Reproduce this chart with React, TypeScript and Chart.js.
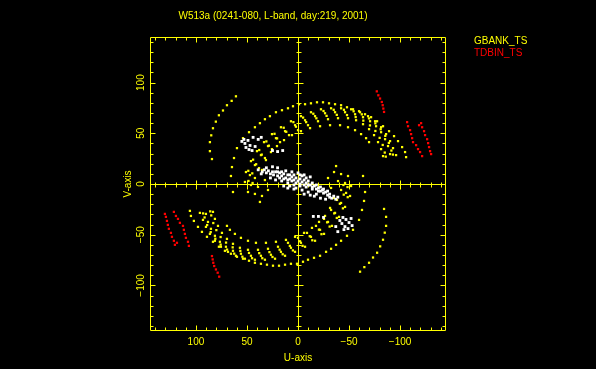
import React, { useEffect, useRef } from 'react';
import { Chart, registerables } from 'chart.js';

Chart.register(...registerables);

const TITLE = 'W513a (0241-080, L-band, day:219, 2001)';
const X_LABEL = 'U-axis';
const Y_LABEL = 'V-axis';
const AXIS_MIN = -145;
const AXIS_MAX = 145;
const TICK_VALUES = [-100, -50, 0, 50, 100];
const SERIES_NAMES = ['GBANK_TS', 'TDBIN_TS'];
const OTHER_NAME = 'OTHER';

const YELLOW = '#ffff00';
const RED = '#ff0000';
const WHITE = '#ffffff';
const FONT = 'Liberation Sans, Arial, sans-serif';

type P = [number, number];

// ---- GBANK_TS (yellow) tracks, upper half ----
const GB_T1_UP: P[] = [[60.8,86.5],[65,82],[69.6,77.7],[73.5,72.5],[77.5,67.8],[80.5,61.5],[83.3,55],[85,48],[86.3,41.3],[86.3,32.4],[84.3,24.6]];
const GB_T2_UP: P[] = [[63.7,-7.9],[65.7,7.9],[64.7,16.7],[62.7,25.6],[59.8,35.4],[53.9,45.2],[48,51.1],[42.2,56],[37.3,60],[32.4,63.9],[27.5,66.9],[21.6,70.8],[15.7,72.8],[9.8,74.7],[4.9,76.7],[-1,78.7],[-6.9,78.7],[-12.7,79.6],[-18.6,80.6],[-24.5,80.6],[-30.4,79.6],[-36.3,78.7],[-42.2,77.7],[-48,75.7],[-53.9,73.7],[-59.8,71.8],[-65.7,68.8],[-71.6,65.9],[-77.5,61.9],[-83.3,57],[-89.2,52.1],[-94.1,47.2],[-98,42.3],[-102,36.4],[-104.9,31.5],[-105.9,26.5]];
const GB_B0_UP: P[] = [[29.4,-5.9],[32.4,3.9],[35.3,13.8],[31.4,23.6],[26.5,31.5],[20.6,37.4],[13.7,43.3],[5.9,48.2],[-2.9,52.1],[-11.8,55.1],[-21.6,57],[-31.4,58],[-41.2,58],[-49,56],[-55.9,53.1],[-61.8,49.2],[-66.7,45.2],[-69.6,41.3]];
const GB_B1_UP: P[] = [[35.3,-11.8],[39.2,-2.9],[42.2,5.9],[38.2,15.7],[32.4,25.6],[25.5,34.4],[17.6,41.3],[8.8,48.2],[0,53.1],[-9.8,58],[-19.6,61.9],[-29.4,63.9],[-39.2,64.9],[-49,64.9],[-56.9,62.9],[-63.7,59],[-69.6,54.1],[-74.5,48.2],[-78.4,41.3],[-81.4,34.4],[-83.3,27.5]];
const GB_B12_UP: P[] = [[44.5,1],[44.8,10.5],[41,19.5],[35.5,29],[28.5,37.8],[20.5,45],[11.5,51.5],[2,56.5],[-8,61],[-18,64.8],[-28,67.2],[-38,68.2],[-48,68],[-56.5,66],[-64,62.5],[-70.5,57.8],[-75.8,52.3],[-80,45.5],[-83,38.5],[-85,31],[-86,27]];
const GB_B2_UP: P[] = [[37.3,-17.7],[42.2,-9.8],[46.1,-1],[47.1,8.8],[42.2,18.7],[36.3,28.5],[29.4,37.4],[21.6,45.2],[12.7,52.1],[2.9,58],[-6.9,62.9],[-16.7,66.9],[-26.5,69.8],[-36.3,70.8],[-46.1,70.8],[-55.9,68.8],[-63.7,65.9],[-70.6,61.9],[-76.5,57],[-81.4,51.1],[-85.3,44.2],[-88.2,37.4],[-90.2,29.5]];
const GB_B23_UP: P[] = [[48.5,3],[48.7,13],[44,24],[38,33.5],[31,42],[23,49.5],[14,55.5],[4.5,61],[-5,65.5],[-15,69.3],[-25,72],[-35,73.2],[-45,73.2],[-54.5,71.7],[-62.5,68.7],[-69.5,64.7],[-75.8,59.8],[-81,54],[-85.5,47.5],[-89,40.5],[-91.5,33],[-93,29]];
const GB_B3_UP: P[] = [[49,-7.9],[52,2],[51,11.8],[46.1,22.6],[40.2,32.4],[33.3,41.3],[25.5,49.2],[16.7,56],[6.9,61.9],[-2.9,66.9],[-12.7,70.8],[-22.5,73.7],[-32.4,74.7],[-42.2,74.7],[-52,73.7],[-60.8,70.8],[-68.6,66.9],[-75.5,61.9],[-81.4,56],[-86.3,49.2],[-90.2,42.3],[-93.1,35.4],[-96.1,28.5]];

// ---- GBANK_TS (yellow) tracks, lower half ----
const GB_T1_LO: P[] = [[-60.8,-86.5],[-65,-82],[-69.6,-77.7],[-73.5,-72.5],[-77.5,-67.8],[-80.5,-61.5],[-83.3,-55],[-85,-48],[-86.3,-41.3],[-86.3,-32.4],[-84.3,-24.6]];
const GB_T2_LO: P[] = [[-63.7,7.9],[-65.7,-7.9],[-64.7,-16.7],[-62.7,-25.6],[-59.8,-35.4],[-53.9,-45.2],[-48,-51.1],[-42.2,-56],[-37.3,-60],[-32.4,-63.9],[-27.5,-66.9],[-21.6,-70.8],[-15.7,-72.8],[-9.8,-74.7],[-4.9,-76.7],[1,-78.7],[6.9,-78.7],[12.7,-79.6],[18.6,-80.6],[24.5,-80.6],[30.4,-79.6],[36.3,-78.7],[42.2,-77.7],[48,-75.7],[53.9,-73.7],[59.8,-71.8],[65.7,-68.8],[71.6,-65.9],[77.5,-61.9],[83.3,-57],[89.2,-52.1],[94.1,-47.2],[98,-42.3],[102,-36.4],[104.9,-31.5],[105.9,-26.5]];
const GB_B0_LO: P[] = [[-29.4,5.9],[-32.4,-3.9],[-35.3,-13.8],[-31.4,-23.6],[-26.5,-31.5],[-20.6,-37.4],[-13.7,-43.3],[-5.9,-48.2],[2.9,-52.1],[11.8,-55.1],[21.6,-57],[31.4,-58],[41.2,-58],[49,-56],[55.9,-53.1],[61.8,-49.2],[66.7,-45.2],[69.6,-41.3]];
const GB_B1_LO: P[] = [[-35.3,11.8],[-39.2,2.9],[-42.2,-5.9],[-38.2,-15.7],[-32.4,-25.6],[-25.5,-34.4],[-17.6,-41.3],[-8.8,-48.2],[0,-53.1],[9.8,-58],[19.6,-61.9],[29.4,-63.9],[39.2,-64.9],[49,-64.9],[56.9,-62.9],[63.7,-59],[69.6,-54.1],[74.5,-48.2],[78.4,-41.3],[81.4,-34.4],[83.3,-27.5]];
const GB_B12_LO: P[] = [[-44.5,-1],[-44.8,-10.5],[-41,-19.5],[-35.5,-29],[-28.5,-37.8],[-20.5,-45],[-11.5,-51.5],[-2,-56.5],[8,-61],[18,-64.8],[28,-67.2],[38,-68.2],[48,-68],[56.5,-66],[64,-62.5],[70.5,-57.8],[75.8,-52.3],[80,-45.5],[83,-38.5],[85,-31],[86,-27]];
const GB_B2_LO: P[] = [[-37.3,17.7],[-42.2,9.8],[-46.1,1],[-47.1,-8.8],[-42.2,-18.7],[-36.3,-28.5],[-29.4,-37.4],[-21.6,-45.2],[-12.7,-52.1],[-2.9,-58],[6.9,-62.9],[16.7,-66.9],[26.5,-69.8],[36.3,-70.8],[46.1,-70.8],[55.9,-68.8],[63.7,-65.9],[70.6,-61.9],[76.5,-57],[81.4,-51.1],[85.3,-44.2],[88.2,-37.4],[90.2,-29.5]];
const GB_B23_LO: P[] = [[-48.5,-3],[-48.7,-13],[-44,-24],[-38,-33.5],[-31,-42],[-23,-49.5],[-14,-55.5],[-4.5,-61],[5,-65.5],[15,-69.3],[25,-72],[35,-73.2],[45,-73.2],[54.5,-71.7],[62.5,-68.7],[69.5,-64.7],[75.8,-59.8],[81,-54],[85.5,-47.5],[89,-40.5],[91.5,-33],[93,-29]];
const GB_B3_LO: P[] = [[-49,7.9],[-52,-2],[-51,-11.8],[-46.1,-22.6],[-40.2,-32.4],[-33.3,-41.3],[-25.5,-49.2],[-16.7,-56],[-6.9,-61.9],[2.9,-66.9],[12.7,-70.8],[22.5,-73.7],[32.4,-74.7],[42.2,-74.7],[52,-73.7],[60.8,-70.8],[68.6,-66.9],[75.5,-61.9],[81.4,-56],[86.3,-49.2],[90.2,-42.3],[93.1,-35.4],[96.1,-28.5]];

// ---- TDBIN_TS (red) tracks ----
const TD_R1_UP: P[] = [[-77.2,91.4],[-78.7,87.5],[-80.4,84.3],[-82.1,80.9],[-83,77.7],[-83.6,74.4],[-84.3,71.1]];
const TD_R2_UP: P[] = [[-106.9,61],[-107.8,57],[-109.8,53.1],[-110.8,49.2],[-111.8,45.2],[-112.7,41.3],[-115.7,38.3],[-117.6,34.4],[-119.6,31.5],[-121.6,27.5]];
const TD_R3_UP: P[] = [[-118.6,58],[-120.6,60],[-121.6,56],[-123.5,52.1],[-124.5,48.2],[-126.5,44.2],[-127.5,40.3],[-128.4,36.4],[-129.4,32.4],[-130.4,29.5]];
const TD_R1_LO: P[] = [[77.2,-91.4],[78.7,-87.5],[80.4,-84.3],[82.1,-80.9],[83,-77.7],[83.6,-74.4],[84.3,-71.1]];
const TD_R2_LO: P[] = [[106.9,-61],[107.8,-57],[109.8,-53.1],[110.8,-49.2],[111.8,-45.2],[112.7,-41.3],[115.7,-38.3],[117.6,-34.4],[119.6,-31.5],[121.6,-27.5]];
const TD_R3_LO: P[] = [[118.6,-58],[120.6,-60],[121.6,-56],[123.5,-52.1],[124.5,-48.2],[126.5,-44.2],[127.5,-40.3],[128.4,-36.4],[129.4,-32.4],[130.4,-29.5]];

// ---- other (white) short-baseline points ----
const OTHER_CLUSTERS: P[] = [[55,42],[52,40],[49,43],[47,38],[51,36],[45,33],[42,37],[39,44],[36,46],[44,46],[48,34],[53,44],
  [-41,-36],[-44,-33],[-47,-35],[-50,-38],[-53,-41],[-46,-42],[-43,-39],[-49,-44],[-52,-34],[-45,-45],[-37,-42],[-39,-47]];
const OTHER_CORE: P[] = [[39,14],[35,12],[31,11],[27,10],[24,9],[20,8],[16,8],[12,6],[8,5],[4,4],[0,3],[-4,2],[-8,1],[-12,-1],[-16,-2],[-20,-4],[-24,-6],[-27,-8],[-31,-10],[-35,-12],[-39,-13],
  [22,12],[18,11],[14,10],[10,9],[6,7],[2,6],[-2,5],[-6,4],[-10,3],[-14,1],[-18,-1],[-22,-3],[-25,-5],[-29,-7],
  [27,6],[22,4],[16,3],[10,1],[4,-1],[-2,-2],[-8,-3],[-14,-5],[-20,-7],[-25,-9],[-31,-13],[-37,-15],
  [12,13],[6,12],[0,11],[-6,9],[-12,7],[2,-4],[-4,-6],[8,-2],[14,-2],[-10,-8],[-18,-10],
  [36,10],[33,14],[29,13],[25,12],[18,6],[14,5],[10,4],[6,3],[2,1],[-2,0],[-6,-1],[-10,-1],[-14,-3],[-18,-5],[-22,-7],[-29,-11],[-33,-14],
  [8,9],[4,9],[-4,8],[-8,6],[-2,9],[10,-4],[4,-5],[-6,-10],[-12,-11],[16,12],[20,12]];
const OTHER_STREAKS: P[] = [[31,16],[25,17],[20,16],[-16,-12],[-22,-14],[-27,-15],[-15,-32],[-20,-32],[-25,-33],[25,33],[20,32],[15,33]];

const GBANK_TRACKS = [GB_T1_UP, GB_T2_UP, GB_B0_UP, GB_B1_UP, GB_B12_UP, GB_B2_UP, GB_B23_UP, GB_B3_UP,
  GB_T1_LO, GB_T2_LO, GB_B0_LO, GB_B1_LO, GB_B12_LO, GB_B2_LO, GB_B23_LO, GB_B3_LO];
const TDBIN_TRACKS = [TD_R1_UP, TD_R2_UP, TD_R3_UP, TD_R1_LO, TD_R2_LO, TD_R3_LO];
const OTHER_TRACKS = [OTHER_CLUSTERS, OTHER_CORE, OTHER_STREAKS];

const toPoints = (tracks: P[][]) => tracks.flat().map(([u, v]) => ({ x: u, y: v }));
const fmt = (v: number) => (v < 0 ? '\u2212' + Math.abs(v) : String(v));

const framePlugin = {
  id: 'uvFrame',
  beforeDatasetsDraw(chart: any) {
    const { ctx, chartArea: a, scales } = chart;
    const xs = scales.x, ys = scales.y;
    ctx.save();
    ctx.strokeStyle = YELLOW;
    ctx.lineWidth = 1;
    const L = Math.round(a.left) + 0.5, R = Math.round(a.right) - 0.5;
    const T = Math.round(a.top) + 0.5, B = Math.round(a.bottom) - 0.5;
    ctx.beginPath();
    ctx.rect(L, T, R - L, B - T);
    const x0 = Math.round(xs.getPixelForValue(0)) + 0.5;
    const y0 = Math.round(ys.getPixelForValue(0)) + 0.5;
    ctx.moveTo(L, y0); ctx.lineTo(R, y0);
    ctx.moveTo(x0, T); ctx.lineTo(x0, B);
    for (let v = -140; v <= 140; v += 10) {
      const major = TICK_VALUES.includes(v);
      const len = major ? 5 : 3;
      const cl = major ? 4 : 2;
      const px = Math.round(xs.getPixelForValue(v)) + 0.5;
      const py = Math.round(ys.getPixelForValue(v)) + 0.5;
      ctx.moveTo(px, B); ctx.lineTo(px, B - len);
      ctx.moveTo(px, T); ctx.lineTo(px, T + len);
      ctx.moveTo(L, py); ctx.lineTo(L + len, py);
      ctx.moveTo(R, py); ctx.lineTo(R - len, py);
      if (v !== 0) {
        ctx.moveTo(px, y0 - cl); ctx.lineTo(px, y0 + cl + 1);
        ctx.moveTo(x0 - cl, py); ctx.lineTo(x0 + cl + 1, py);
      }
    }
    ctx.stroke();
    ctx.restore();
  },
  afterDraw(chart: any) {
    const { ctx } = chart;
    ctx.save();
    ctx.font = '10px ' + FONT;
    ctx.textAlign = 'left';
    ctx.textBaseline = 'middle';
    ctx.fillStyle = YELLOW;
    ctx.fillText(SERIES_NAMES[0], 474, 41);
    ctx.fillStyle = RED;
    ctx.fillText(SERIES_NAMES[1], 474, 53);
    ctx.restore();
  },
};

export default function App() {
  const ref = useRef<HTMLCanvasElement>(null);
  useEffect(() => {
    if (!ref.current) return;
    const setTicks = (s: any) => { s.ticks = TICK_VALUES.map((v) => ({ value: v })); };
    const chart = new Chart(ref.current, {
      type: 'scatter',
      data: {
        datasets: [
          { label: OTHER_NAME, data: toPoints(OTHER_TRACKS), backgroundColor: WHITE, pointStyle: 'rect', pointRadius: 2, pointBorderWidth: 0, order: 0 },
          { label: SERIES_NAMES[1], data: toPoints(TDBIN_TRACKS), backgroundColor: RED, pointStyle: 'rect', pointRadius: 1.6, pointBorderWidth: 0, order: 1 },
          { label: SERIES_NAMES[0], data: toPoints(GBANK_TRACKS), backgroundColor: YELLOW, pointStyle: 'rect', pointRadius: 1.6, pointBorderWidth: 0, order: 2 },
        ],
      },
      options: {
        animation: false,
        responsive: false,
        devicePixelRatio: 1,
        events: [],
        layout: { padding: { left: 100, right: 150, top: 0, bottom: 0 } },
        plugins: {
          legend: { display: false },
          tooltip: { enabled: false },
          title: { display: true, text: TITLE, color: YELLOW, font: { family: FONT, size: 10, weight: 'normal' }, padding: { top: 10, bottom: 15 } },
        },
        scales: {
          x: {
            type: 'linear', min: AXIS_MIN, max: AXIS_MAX, reverse: true,
            afterBuildTicks: setTicks,
            afterFit: (s: any) => { s.height = 38; },
            grid: { display: false, drawTicks: false },
            border: { display: false },
            ticks: { color: YELLOW, font: { family: FONT, size: 10 }, padding: 5, maxRotation: 0, minRotation: 0, callback: (v: any) => fmt(Number(v)) },
            title: { display: true, text: X_LABEL, color: YELLOW, font: { family: FONT, size: 10 }, padding: { top: 0, bottom: 5 } },
          },
          y: {
            type: 'linear', min: AXIS_MIN, max: AXIS_MAX,
            afterBuildTicks: setTicks,
            afterFit: (s: any) => { s.width = 50; },
            grid: { display: false, drawTicks: false },
            border: { display: false },
            ticks: { color: YELLOW, font: { family: FONT, size: 10 }, padding: -3, minRotation: 90, maxRotation: 90, crossAlign: 'center', callback: (v: any) => fmt(Number(v)) },
            title: { display: true, text: Y_LABEL, color: YELLOW, font: { family: FONT, size: 10 }, padding: { top: 22, bottom: 0 } },
          },
        },
      },
      plugins: [framePlugin],
    } as any);
    return () => chart.destroy();
  }, []);
  return (
    <div style={{ position: 'fixed', left: 0, top: 0, width: 596, height: 369, background: '#000' }}>
      <canvas ref={ref} width={596} height={369} style={{ display: 'block', width: 596, height: 369 }} />
    </div>
  );
}
